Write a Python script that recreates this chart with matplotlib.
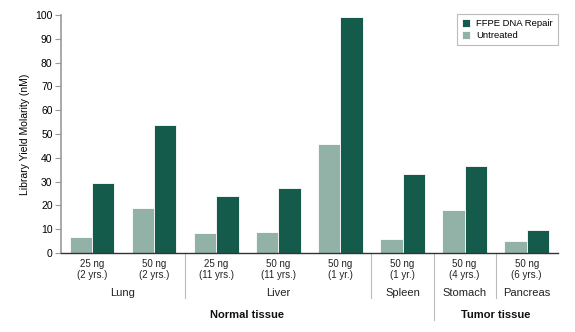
import matplotlib
matplotlib.use("Agg")
import matplotlib.pyplot as plt
import numpy as np

plt.rcParams['font.family'] = ['Liberation Sans Narrow', 'Liberation Sans', 'DejaVu Sans']

# library yield per sample (nM)
amounts = ["25 ng", "50 ng", "25 ng", "50 ng", "50 ng", "50 ng", "50 ng", "50 ng"]
ages = ["(2 yrs.)", "(2 yrs.)", "(11 yrs.)", "(11 yrs.)", "(1 yr.)",
        "(1 yr.)", "(4 yrs.)", "(6 yrs.)"]
untreated = [6.7, 18.9, 8.4, 8.8, 45.9, 6.0, 18.0, 4.9]
ffpe_repair = [29.5, 53.8, 23.9, 27.3, 99.0, 33.3, 36.6, 9.6]

tissues = ["Lung", "Liver", "Spleen", "Stomach", "Pancreas"]
tissue_groups = [(0, 1), (2, 4), (5, 5), (6, 6), (7, 7)]
categories = ["Normal tissue", "Tumor tissue"]
category_groups = [(0, 5), (6, 7)]

dark = "#145b4c"
light = "#92b2a7"

fig = plt.figure(figsize=(5.75, 3.32), dpi=100)
ax = fig.add_axes([0.106, 0.238, 0.864, 0.717])

x = np.arange(len(untreated))
w = 0.36
ax.bar(x - w / 2, untreated, w, color=light, edgecolor="white", linewidth=0.6,
       label="Untreated")
ax.bar(x + w / 2, ffpe_repair, w, color=dark, edgecolor="white", linewidth=0.6,
       label="FFPE DNA Repair")

ax.set_xlim(-0.5, len(x) - 0.5)
ax.set_ylim(0, 100)
ax.set_yticks(range(0, 101, 10))
ax.tick_params(axis="y", direction="out", length=4, width=0.8, color="#999999",
               labelsize=7.5, pad=2)
ax.set_xticks([])
for side in ["top", "right"]:
    ax.spines[side].set_visible(False)
ax.spines["left"].set_color("#999999")
ax.spines["left"].set_linewidth(1.2)
ax.spines["bottom"].set_color("#333333")
ax.spines["bottom"].set_linewidth(1.0)
ax.set_ylabel("Library Yield Molarity (nM)", fontsize=7.5, labelpad=4)

tr = ax.get_xaxis_transform()
axh = 238.0  # axes height in pixels

def yfrac(px):
    return -px / axh

for i in x:
    ax.text(i, yfrac(11), amounts[i], transform=tr, ha="center", va="center",
            fontsize=7, color="#222222")
    ax.text(i, yfrac(22), ages[i], transform=tr, ha="center", va="center",
            fontsize=7, color="#222222")

for name, (a, b) in zip(tissues, tissue_groups):
    ax.text((a + b) / 2, yfrac(40), name, transform=tr, ha="center",
            va="center", fontsize=8, color="#222222")

for name, (a, b) in zip(categories, category_groups):
    ax.text((a + b) / 2, yfrac(62), name, transform=tr, ha="center",
            va="center", fontsize=8, fontweight="bold", color="#111111")

# separators between tissues and between normal/tumor
for pos, depth in [(1.5, 45), (4.5, 45), (5.5, 67), (6.5, 45)]:
    ax.plot([pos, pos], [0, yfrac(depth)], transform=tr, color="#bbbbbb",
            linewidth=0.8, clip_on=False)

handles, labels = ax.get_legend_handles_labels()
leg = ax.legend(handles[::-1], labels[::-1], loc="upper right",
                bbox_to_anchor=(1.0, 1.005), borderaxespad=0, fontsize=6.8,
                frameon=True, fancybox=False, edgecolor="#aaaaaa",
                handlelength=0.9, handleheight=0.9, handletextpad=0.6,
                borderpad=0.55, labelspacing=0.3)
leg.get_frame().set_linewidth(0.8)

fig.savefig("out.png", dpi=100)
